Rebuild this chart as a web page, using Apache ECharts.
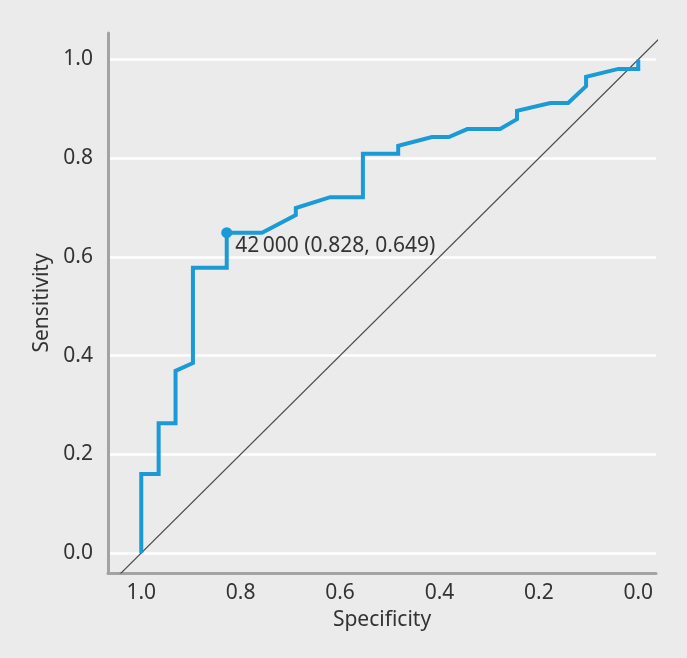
<!DOCTYPE html>
<html>
<head>
<meta charset="utf-8">
<script src="https://cdn.jsdelivr.net/npm/echarts@6/dist/echarts.min.js"></script>
<style>
html,body{margin:0;padding:0;background:#ebebeb;}
#chart{width:687px;height:658px;}
</style>
</head>
<body>
<div id="chart"></div>
<script>
// ROC curve vertices
var specificity = [1.0, 1.0, 0.965, 0.965, 0.931, 0.931, 0.896, 0.896, 0.828, 0.828, 0.757, 0.689, 0.689, 0.620, 0.554, 0.554, 0.483, 0.483, 0.415, 0.381, 0.344, 0.278, 0.244, 0.244, 0.177, 0.141, 0.105, 0.105, 0.040, 0.0, 0.0];
var sensitivity = [0.0, 0.160, 0.160, 0.263, 0.263, 0.369, 0.385, 0.578, 0.578, 0.649, 0.649, 0.685, 0.699, 0.721, 0.721, 0.809, 0.809, 0.825, 0.843, 0.843, 0.859, 0.859, 0.879, 0.896, 0.912, 0.912, 0.946, 0.965, 0.981, 0.981, 1.0];
// chance (reference) line: sensitivity = 1 - specificity
var diagSpec = [1.2, -0.2];
var diagSens = [-0.2, 1.2];
// highlighted cut-off point
var cutSpec = 0.828;
var cutSens = 0.649;
var cutLabel = '42\u2009000 (0.828, 0.649)';
var xName = 'Specificity';
var yName = 'Sensitivity';

var rocData = specificity.map(function (s, i) { return [s, sensitivity[i]]; });
var diagData = diagSpec.map(function (s, i) { return [s, diagSens[i]]; });

var FONT = '"Noto Sans", "Open Sans", sans-serif';
var TXT = '#333333';

var chart = echarts.init(document.getElementById('chart'), null, {renderer: 'canvas'});
chart.setOption({
  backgroundColor: '#ebebeb',
  animation: false,
  grid: {left: 108, right: 31, top: 33, bottom: 85, containLabel: false},
  xAxis: {
    type: 'value',
    inverse: true,
    min: -0.0357,
    max: 1.0669,
    splitNumber: 5,
    name: xName,
    nameLocation: 'middle',
    nameGap: 37,
    nameTextStyle: {fontFamily: FONT, fontSize: 21, color: TXT},
    axisLine: {show: true, onZero: false, lineStyle: {color: '#a3a3a3', width: 3}},
    axisTick: {show: false},
    splitLine: {show: false},
    axisLabel: {
      fontFamily: FONT, fontSize: 21, color: TXT, margin: 10,
      showMinLabel: false, showMaxLabel: false,
      formatter: function (v) { return v.toFixed(1); }
    }
  },
  yAxis: {
    type: 'value',
    min: -0.0405,
    max: 1.0537,
    splitNumber: 5,
    name: yName,
    nameLocation: 'middle',
    nameGap: 52,
    nameTextStyle: {fontFamily: FONT, fontSize: 21, color: TXT},
    axisLine: {show: true, onZero: false, lineStyle: {color: '#a3a3a3', width: 3}},
    axisTick: {show: false},
    splitLine: {show: true, showMinLine: false, showMaxLine: false, lineStyle: {color: '#ffffff', width: 2.5}},
    axisLabel: {
      fontFamily: FONT, fontSize: 21, color: TXT, margin: 15,
      showMinLabel: false, showMaxLabel: false,
      formatter: function (v) { return v.toFixed(1); }
    }
  },
  series: [
    {
      type: 'line',
      data: diagData,
      showSymbol: false,
      clip: true,
      lineStyle: {color: '#4a4a4a', width: 1.2},
      silent: true,
      z: 2
    },
    {
      type: 'line',
      data: rocData,
      showSymbol: false,
      clip: false,
      lineStyle: {color: '#1a9bd7', width: 4, join: 'miter', cap: 'butt'},
      z: 3
    },
    {
      type: 'scatter',
      data: [[cutSpec, cutSens]],
      symbol: 'circle',
      symbolSize: 11,
      itemStyle: {color: '#1a9bd7', opacity: 1},
      label: {
        show: true,
        position: 'right',
        distance: 3,
        offset: [0, 13],
        formatter: cutLabel,
        fontFamily: FONT,
        fontSize: 21,
        color: TXT,
        opacity: 1
      },
      z: 4
    }
  ]
});
</script>
</body>
</html>
